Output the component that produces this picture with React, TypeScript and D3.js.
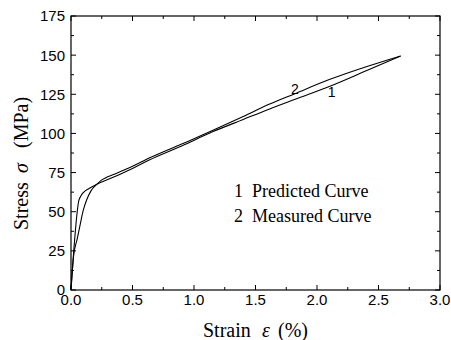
import React, { useRef, useEffect } from "react";
import * as d3 from "d3";

// strain (%) vs stress (MPa)
const predictedStrain = [0, 0.065, 0.08, 0.1, 0.15, 0.21, 0.26, 0.4, 0.5, 0.64, 0.9, 1.15, 1.4, 1.61, 1.85, 2.1, 2.4, 2.68];
const predictedStress = [0, 57.5, 60, 62.2, 65, 67.5, 69.3, 74, 77.6, 83.2, 92, 101, 108.9, 115.5, 122.6, 130, 140, 149.5];

const measuredStrain = [0, 0.02, 0.05, 0.07, 0.1, 0.127, 0.16, 0.21, 0.24, 0.28, 0.35, 0.45, 0.55, 0.64, 0.9, 1.15, 1.4, 1.61, 1.82, 2.1, 2.4, 2.68];
const measuredStress = [0, 21, 32.5, 40, 51, 57.5, 63, 67.5, 69.7, 71.6, 73.9, 77.3, 81, 84.4, 93.2, 101.8, 110.8, 118.6, 125.4, 134.4, 142.6, 149.5];

const xMajorTicks = [0, 0.5, 1.0, 1.5, 2.0, 2.5, 3.0];
const yMajorTicks = [0, 25, 50, 75, 100, 125, 150, 175];

const legendItems = ["Predicted Curve", "Measured Curve"];

const width = 451;
const height = 340;
const margin = { top: 16, right: 11, bottom: 50, left: 71 };

const serif = "'Liberation Serif', 'Times New Roman', serif";
const sans = "'Liberation Sans', Arial, sans-serif";

const App: React.FC = () => {
  const svgRef = useRef<SVGSVGElement>(null);

  useEffect(() => {
    const svg = d3.select(svgRef.current);
    svg.selectAll("*").remove();

    const innerW = width - margin.left - margin.right;
    const innerH = height - margin.top - margin.bottom;

    const x = d3.scaleLinear().domain([0, 3]).range([0, innerW]);
    const y = d3.scaleLinear().domain([0, 175]).range([innerH, 0]);

    const g = svg
      .append("g")
      .attr("transform", `translate(${margin.left},${margin.top})`);

    const xMinor = d3.range(0.25, 3, 0.5);
    const yMinor = d3.range(12.5, 175, 25);

    // frame
    g.append("rect")
      .attr("x", 0)
      .attr("y", 0)
      .attr("width", innerW)
      .attr("height", innerH)
      .attr("fill", "none")
      .attr("stroke", "#000")
      .attr("stroke-width", 1.2);

    // ticks (inward, all four sides)
    const tickG = g.append("g").attr("stroke", "#000").attr("stroke-width", 1);
    const addX = (vals: number[], len: number) => {
      vals.forEach((v) => {
        tickG.append("line").attr("x1", x(v)).attr("x2", x(v)).attr("y1", innerH).attr("y2", innerH - len);
        tickG.append("line").attr("x1", x(v)).attr("x2", x(v)).attr("y1", 0).attr("y2", len);
      });
    };
    const addY = (vals: number[], len: number) => {
      vals.forEach((v) => {
        tickG.append("line").attr("y1", y(v)).attr("y2", y(v)).attr("x1", 0).attr("x2", len);
        tickG.append("line").attr("y1", y(v)).attr("y2", y(v)).attr("x1", innerW).attr("x2", innerW - len);
      });
    };
    addX(xMajorTicks, 5);
    addX(xMinor, 3);
    addY(yMajorTicks, 5);
    addY(yMinor, 3);

    // tick labels
    g.selectAll(".xl")
      .data(xMajorTicks)
      .join("text")
      .attr("x", (d) => x(d))
      .attr("y", innerH + 15)
      .attr("text-anchor", "middle")
      .attr("fill", "#000")
      .style("font-family", sans)
      .style("font-size", "15px")
      .text((d) => d3.format(".1f")(d));

    g.selectAll(".yl")
      .data(yMajorTicks)
      .join("text")
      .attr("x", -6)
      .attr("y", (d) => y(d))
      .attr("dy", "0.36em")
      .attr("text-anchor", "end")
      .attr("fill", "#000")
      .style("font-family", sans)
      .style("font-size", "15px")
      .text((d) => d);

    // curves
    const line = d3
      .line<[number, number]>()
      .x((d) => x(d[0]))
      .y((d) => y(d[1]))
      .curve(d3.curveMonotoneX);

    const predicted = predictedStrain.map((s, i) => [s, predictedStress[i]] as [number, number]);
    const measured = measuredStrain.map((s, i) => [s, measuredStress[i]] as [number, number]);

    [predicted, measured].forEach((pts) => {
      g.append("path")
        .attr("d", line(pts))
        .attr("fill", "none")
        .attr("stroke", "#000")
        .attr("stroke-width", 1.1);
    });

    // curve numbers
    g.append("text")
      .attr("x", x(1.82))
      .attr("y", y(125.5))
      .attr("text-anchor", "middle")
      .attr("fill", "#000")
      .style("font-family", sans)
      .style("font-size", "14px")
      .text("2");
    g.append("text")
      .attr("x", x(2.12))
      .attr("y", y(130) + 11)
      .attr("text-anchor", "middle")
      .attr("fill", "#000")
      .style("font-family", sans)
      .style("font-size", "14px")
      .text("1");

    // legend
    legendItems.forEach((label, i) => {
      const t = g
        .append("text")
        .attr("x", 163)
        .attr("y", 181 + i * 25)
        .attr("fill", "#000")
        .style("font-family", serif)
        .style("font-size", "18px");
      t.append("tspan").text(String(i + 1));
      t.append("tspan").attr("x", 181).text(label);
    });

    // x axis title
    const xt = svg
      .append("text")
      .attr("x", 203)
      .attr("y", 337)
      .attr("fill", "#000")
      .style("font-family", serif)
      .style("font-size", "20px");
    xt.append("tspan").text("Strain");
    xt.append("tspan").attr("x", 262).style("font-style", "italic").text("ε");
    xt.append("tspan").attr("x", 278).text("(%)");

    // y axis title
    const yt = svg
      .append("text")
      .attr("transform", "translate(28,230) rotate(-90)")
      .attr("fill", "#000")
      .style("font-family", serif)
      .style("font-size", "20px");
    yt.append("tspan").attr("x", 0).text("Stress");
    yt.append("tspan").attr("x", 57).style("font-style", "italic").text("σ");
    yt.append("tspan").attr("x", 82).text("(MPa)");
  }, []);

  return (
    <svg
      ref={svgRef}
      width={width}
      height={height}
      style={{ position: "absolute", left: 0, top: 0, background: "#fff" }}
    />
  );
};

export default App;
